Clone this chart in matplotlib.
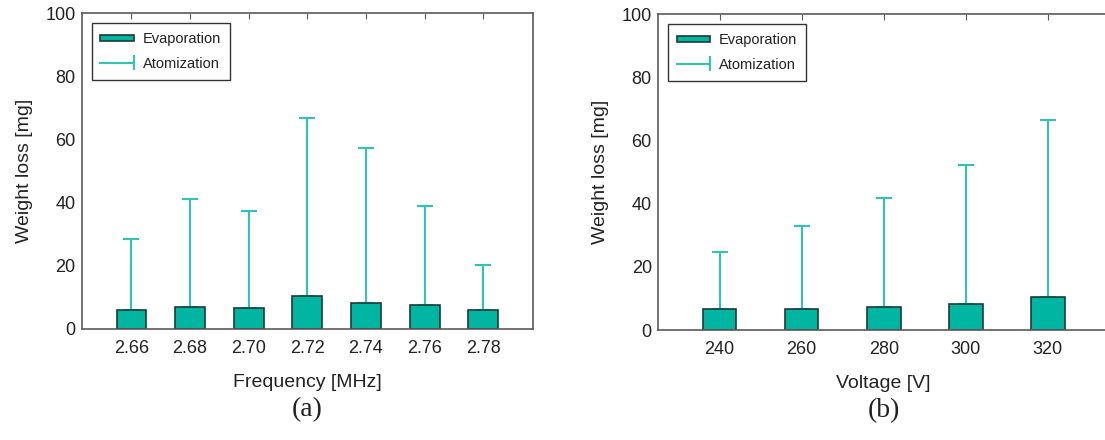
import matplotlib
matplotlib.use("Agg")
import matplotlib.pyplot as plt
import numpy as np
from matplotlib.legend_handler import HandlerBase
from matplotlib.lines import Line2D
from matplotlib.patches import Rectangle

# ---- data ----
freq_labels = ["2.66", "2.68", "2.70", "2.72", "2.74", "2.76", "2.78"]
freq_evap = [6.0, 6.9, 6.7, 10.5, 8.3, 7.6, 6.0]
freq_atom = [28.6, 41.0, 37.4, 66.7, 57.3, 38.8, 20.1]

volt_labels = ["240", "260", "280", "300", "320"]
volt_evap = [6.5, 6.7, 7.2, 8.2, 10.4]
volt_atom = [24.6, 32.8, 41.7, 52.1, 66.4]

BAR_COLOR = "#00B5A1"
ERR_COLOR = "#33C3B6"
EDGE = "#1d3b36"
SPINE = "#5a5a5a"
TXT = "#222222"

plt.rcParams['font.family'] = ['Liberation Sans', 'DejaVu Sans']


class ErrHandler(HandlerBase):
    def create_artists(self, legend, orig_handle, xdescent, ydescent,
                       width, height, fontsize, trans):
        y = height / 2 - ydescent
        x0 = -xdescent
        x1 = x0 + width
        l1 = Line2D([x0, x1], [y, y], color=ERR_COLOR, lw=1.5, transform=trans)
        l2 = Line2D([x1, x1], [y - height * 0.65, y + height * 0.65],
                    color=ERR_COLOR, lw=1.5, transform=trans)
        return [l1, l2]


class BarHandler(HandlerBase):
    def create_artists(self, legend, orig_handle, xdescent, ydescent,
                       width, height, fontsize, trans):
        h = height * 0.65
        r = Rectangle((-xdescent, (height - h) / 2 - ydescent), width, h,
                      facecolor=BAR_COLOR, edgecolor=EDGE, lw=1.2,
                      transform=trans)
        return [r]


def panel(ax, labels, evap, atom, barw, margin, xlabel, tag):
    x = np.arange(len(labels))
    evap = np.array(evap)
    atom = np.array(atom)
    ax.errorbar(x, evap, yerr=[np.zeros_like(evap), atom - evap], fmt='none',
                ecolor=ERR_COLOR, elinewidth=1.5, capsize=5.5, capthick=1.5,
                zorder=1)
    ax.bar(x, evap, width=barw, color=BAR_COLOR, edgecolor=EDGE, lw=1.2,
           zorder=2)
    ax.set_xlim(-margin, len(labels) - 1 + margin)
    ax.set_ylim(0, 100)
    ax.set_yticks([0, 20, 40, 60, 80, 100])
    ax.set_xticks(x)
    ax.set_xticklabels(labels)
    for s in ax.spines.values():
        s.set_color(SPINE)
        s.set_linewidth(1.2)
    ax.tick_params(axis='x', which='both', bottom=False, top=True,
                   direction='in', length=4, color=SPINE, labelsize=13,
                   labelcolor=TXT, pad=8)
    ax.tick_params(axis='y', which='both', left=True, right=False,
                   direction='in', length=0, labelsize=13, labelcolor=TXT,
                   pad=4.5)
    ax.set_ylabel("Weight loss [mg]", fontsize=14, color=TXT, labelpad=9)
    ax.set_xlabel(xlabel, fontsize=14, color=TXT, labelpad=12)
    h_bar = Rectangle((0, 0), 1, 1)
    h_err = Line2D([0], [0])
    leg = ax.legend([h_bar, h_err], ["Evaporation", "Atomization"],
                    handler_map={Rectangle: BarHandler(), Line2D: ErrHandler()},
                    loc='upper left', bbox_to_anchor=(0.022, 0.968),
                    fontsize=10.5, frameon=True, fancybox=False,
                    edgecolor="#333333", framealpha=1, borderpad=0.6,
                    handlelength=2.3, handletextpad=0.6, labelspacing=0.75,
                    borderaxespad=0)
    leg.get_frame().set_linewidth(1.0)
    for t in leg.get_texts():
        t.set_color(TXT)
    ax.text(0.5, -0.215, tag, transform=ax.transAxes, ha='center', va='top',
            fontsize=20, family='Liberation Serif', color=TXT)


fig = plt.figure(figsize=(11.05, 4.4), dpi=100)
ax1 = fig.add_axes([0.0739, 0.2523, 0.4085, 0.718])
ax2 = fig.add_axes([0.5955, 0.2500, 0.4085, 0.718])

panel(ax1, freq_labels, freq_evap, freq_atom, 0.51, 0.85,
      "Frequency [MHz]", "(a)")
panel(ax2, volt_labels, volt_evap, volt_atom, 0.41, 0.75,
      "Voltage [V]", "(b)")

fig.savefig("out.png", dpi=100)
